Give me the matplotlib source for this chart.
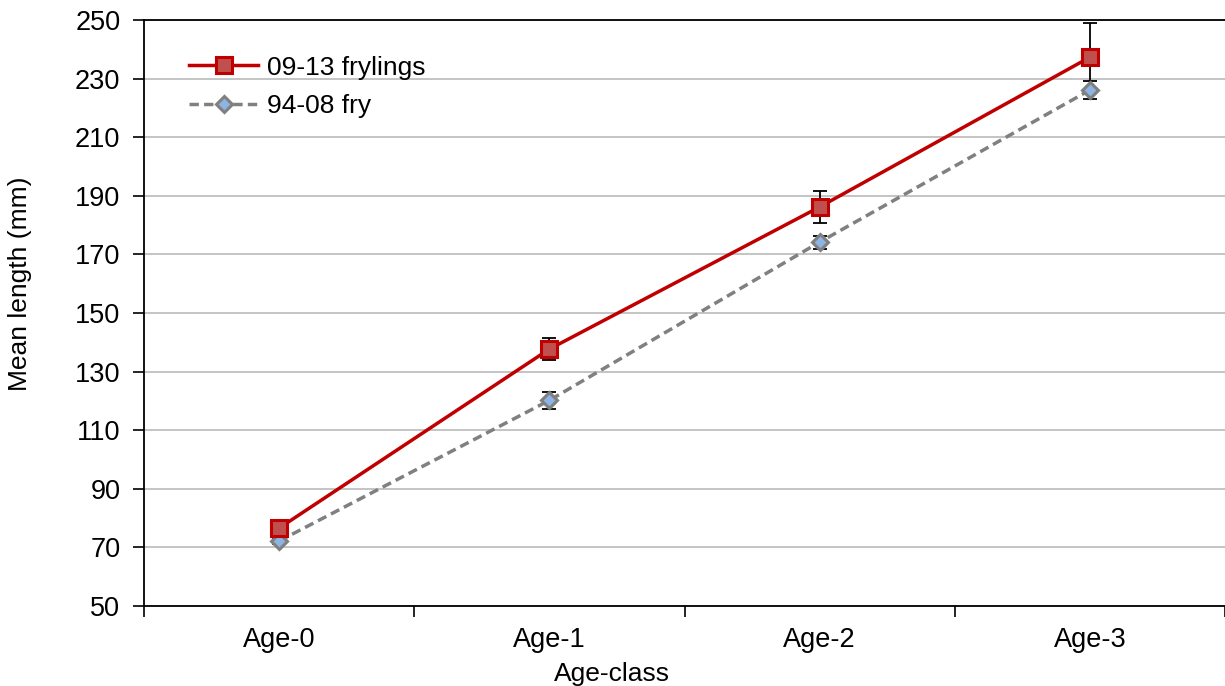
import matplotlib.pyplot as plt
import numpy as np

plt.rcParams["font.family"] = ["Liberation Sans", "DejaVu Sans"]

age_classes = ["Age-0", "Age-1", "Age-2", "Age-3"]

frylings_mean = [76.6, 137.7, 186.2, 237.3]
frylings_err = [1.5, 3.9, 5.5, 11.7]

fry_mean = [72.2, 120.2, 174.2, 226.1]
fry_err = [1.0, 2.9, 2.2, 3.0]

x = np.arange(len(age_classes))

fig = plt.figure(figsize=(12.25, 6.86), dpi=100)
ax = fig.add_axes([0.1176, 0.1166, 0.8824, 0.8542])

ax.errorbar(x, fry_mean, yerr=fry_err, fmt="none", ecolor="black",
            elinewidth=1.3, capsize=5, capthick=1.3, zorder=2)
ax.errorbar(x, frylings_mean, yerr=frylings_err, fmt="none", ecolor="black",
            elinewidth=1.3, capsize=5, capthick=1.3, zorder=2)

ax.plot(x, fry_mean, color="#808080", linestyle=(0, (2.7, 1.5)), linewidth=2.5,
        marker="D", markersize=8, markerfacecolor="#8DB4E2",
        markeredgecolor="#808080", markeredgewidth=2.2,
        label="94-08 fry", zorder=3)
ax.plot(x, frylings_mean, color="#C00000", linewidth=2.5,
        marker="s", markersize=11, markerfacecolor="#C0504D",
        markeredgecolor="#C00000", markeredgewidth=2.2,
        label="09-13 frylings", zorder=4)

ax.set_xlim(-0.5, 3.5)
ax.set_ylim(50, 250)
ax.set_yticks(np.arange(50, 251, 20))
ax.set_xticks(x)
ax.set_xticklabels(age_classes)
ax.set_xticks(np.arange(-0.5, 3.6, 1), minor=True)
ax.tick_params(axis="x", which="major", length=0, pad=15, labelsize=19.5)
ax.tick_params(axis="x", which="minor", length=8, width=1.2, direction="out")
ax.tick_params(axis="y", length=8, width=1.2, direction="out", labelsize=19.5, pad=9)

ax.grid(axis="y", color="#BFBFBF", linewidth=1.3, zorder=0)
ax.set_axisbelow(True)
ax.spines["right"].set_visible(False)
ax.spines["top"].set_visible(False)
ax.spines["left"].set_linewidth(1.3)
ax.spines["bottom"].set_linewidth(1.3)
ax.axhline(250, color="black", linewidth=1.3, zorder=1, clip_on=False)

ax.set_xlabel("Age-class", fontsize=19)
ax.set_ylabel("Mean length (mm)", fontsize=19)
# axis titles sit off-centre in the original
ax.xaxis.set_label_coords(0.433, -0.095)
ax.yaxis.set_label_coords(-0.1035, 0.55)

handles, labels = ax.get_legend_handles_labels()
ax.legend(handles[::-1], labels[::-1], loc="upper left",
          bbox_to_anchor=(0.02, 0.98), frameon=False, fontsize=19,
          handlelength=2.6, handletextpad=0.35, labelspacing=0.55)

fig.savefig("out.png", dpi=100)
